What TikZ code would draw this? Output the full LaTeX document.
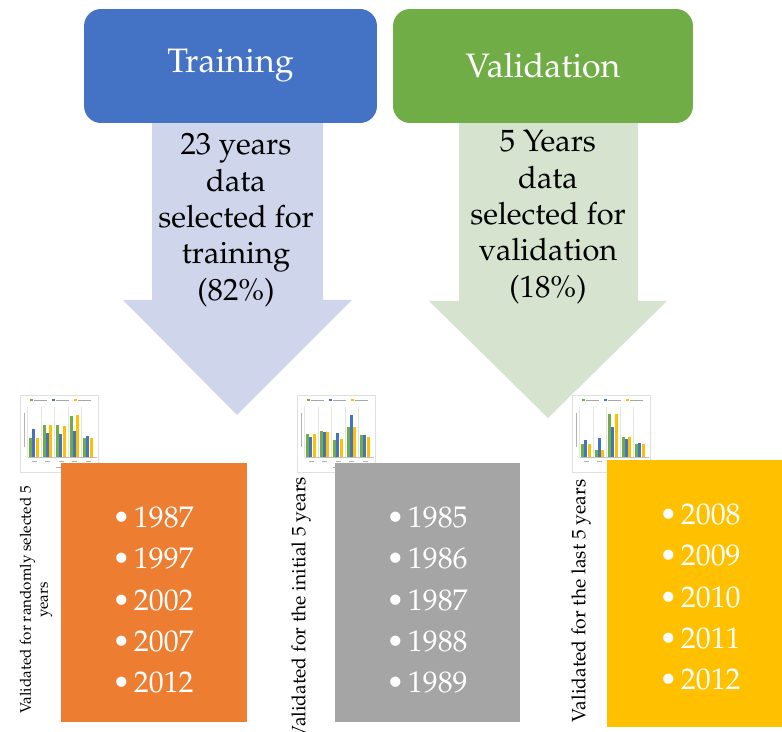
\documentclass[tikz,border=0pt]{standalone}
\usepackage[T1]{fontenc}
\usepackage{mathpazo}

\definecolor{blu}{HTML}{4472C4}
\definecolor{verde}{HTML}{70AD47}
\definecolor{arancio}{HTML}{ED7D31}
\definecolor{grigio}{HTML}{A5A5A5}
\definecolor{oro}{HTML}{FFC000}
\definecolor{blutenue}{HTML}{CFD5EA}
\definecolor{verdetenue}{HTML}{D5E3CF}

\tikzset{
    titolo/.style={rounded corners=0.34cm, minimum height=2.28cm, text=white, font=\fontsize{19.3}{23}\selectfont},
    testofreccia/.style={align=center, font=\fontsize{17.5}{20.7}\selectfont},
    riquadro/.style={minimum width=3.72cm, minimum height=5.18cm},
    anni/.style={align=left, text=white, font=\fontsize{17}{23.5}\selectfont},
    laterale/.style={rotate=90, align=center, font=\fontsize{11}{13}\selectfont},
}

%mini grafico a barre: #1,#2 = angolo in alto a sinistra, #3 = altezze verde/blu/oro
\newcommand{\minigrafico}[3]{
    \begin{scope}[shift={(#1,#2)}]
        \draw[black!12,fill=white] (0,0) rectangle (78,77);
        %legenda
        \foreach \c [count=\k] in {verde,blu,oro}{
            \fill[\c] ({10+(\k-1)*22},4) rectangle ++(2.5,2.5);
            \draw[black!35,line width=0.4pt] ({14+(\k-1)*22},5.2) -- ++(13,0);
        }
        %asse y
        \draw[black!30,line width=0.4pt] (4,18) -- (4,52);
        %barre
        \foreach \g/\b/\o [count=\i] in {#3}{
            \pgfmathsetmacro\gx{9+(\i-1)*13.5}
            \draw[black!10] (\gx-1.5,12) -- (\gx-1.5,62);
            \fill[verde] (\gx,62) rectangle ++(3,-\g);
            \fill[blu] (\gx+3.4,62) rectangle ++(3,-\b);
            \fill[oro] (\gx+6.8,62) rectangle ++(3,-\o);
            \draw[black!30,line width=0.4pt] (\gx+2.5,66.5) -- ++(5,0);
        }
        \draw[black!25] (7.5,62) -- (77,62);
        %etichetta asse x
        \draw[black!30,line width=0.4pt] (36,72) -- ++(8,0);
    \end{scope}
}

\begin{document}
\begin{tikzpicture}[x=0.02cm,y=-0.02cm]
    \useasboundingbox (0,0) rectangle (782,732);

    %frecce
    \fill[blutenue] (152,110) -- (323,110) -- (323,300) -- (352,300) -- (237,415) -- (123,300) -- (152,300) -- cycle;
    \fill[verdetenue] (459,110) -- (638,110) -- (638,301) -- (667,301) -- (548,418) -- (429,301) -- (459,301) -- cycle;

    %riquadri in alto
    \node[titolo, fill=blu, minimum width=5.86cm] (training) at (230.5,66) {Training};
    \node[titolo, fill=verde, minimum width=6cm] (validation) at (543,66) {Validation};

    %testo nelle frecce
    \node[testofreccia] (trainingtesto) at (236,220) {23 years\\data\\selected for\\training\\(82\%)};
    \node[testofreccia] (validationtesto) at (548,217) {5 Years\\data\\selected for\\validation\\(18\%)};

    %grafici
    \minigrafico{20}{395}{19/28/19, 32/24/32, 32/23/31, 41/26/42, 19/21/19}
    \minigrafico{297}{395}{23/20/23, 26/25/25, 17/24/18, 30/42/30, 22/22/20}
    \minigrafico{572}{395}{13/17/13, 7/19/7, 43/30/43, 20/18/20, 13/14/13}

    %riquadri in basso
    \node[riquadro, fill=arancio] (casuali) at (154,592.5) {};
    \node[riquadro, fill=grigio] (iniziali) at (427.5,592.5) {};
    \node[riquadro, fill=oro, minimum height=5.34cm] (ultimi) at (700,593.5) {};

    %anni
    \node[anni] (annicasuali) at (153,600) {\textbullet\hspace{2pt}1987\\\textbullet\hspace{2pt}1997\\\textbullet\hspace{2pt}2002\\\textbullet\hspace{2pt}2007\\\textbullet\hspace{2pt}2012};
    \node[anni] (anniiniziali) at (427,600) {\textbullet\hspace{2pt}1985\\\textbullet\hspace{2pt}1986\\\textbullet\hspace{2pt}1987\\\textbullet\hspace{2pt}1988\\\textbullet\hspace{2pt}1989};
    \node[anni] (anniultimi) at (700,597) {\textbullet\hspace{2pt}2008\\\textbullet\hspace{2pt}2009\\\textbullet\hspace{2pt}2010\\\textbullet\hspace{2pt}2011\\\textbullet\hspace{2pt}2012};

    %testi laterali
    \node[laterale, font=\fontsize{8.7}{9.6}\selectfont] (casualitesto) at (36,600) {Validated for randomly selected 5\\years};
    \node[laterale] (inizialitesto) at (301,608) {Validated for the initial 5 years};
    \node[laterale] (ultimitesto) at (581,601) {Validated for the last 5 years};
\end{tikzpicture}
\end{document}
